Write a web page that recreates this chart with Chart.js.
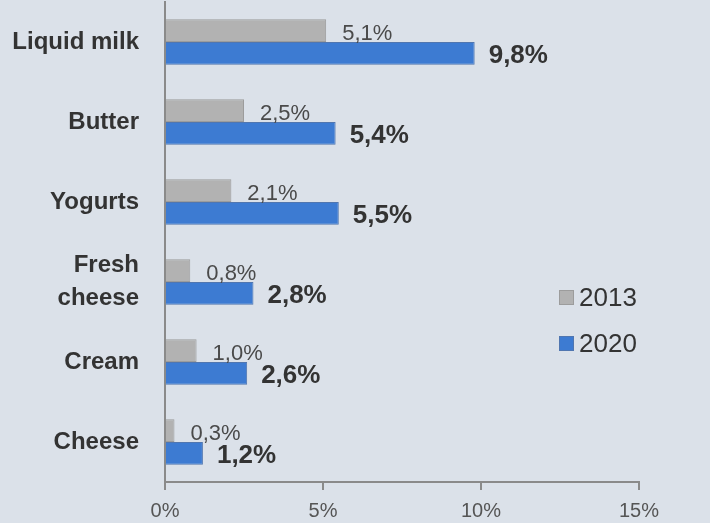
<!DOCTYPE html>
<html>
<head>
<meta charset="utf-8">
<script src="https://cdn.jsdelivr.net/npm/chart.js@4"></script>
<style>
    body { margin: 0; background: #dbe1e9; }
    #wrap { width: 710px; height: 523px; }
</style>
</head>
<body>
<div id="wrap"><canvas id="dairyChart"></canvas></div>
<script>
const categories = ['Liquid milk', 'Butter', 'Yogurts', ['Fresh', 'cheese'], 'Cream', 'Cheese'];
const seriesNames = ['2013', '2020'];
const values2013 = [5.1, 2.5, 2.1, 0.8, 1.0, 0.3];
const values2020 = [9.8, 5.4, 5.5, 2.8, 2.6, 1.2];
const xTicks = [0, 5, 10, 15];

const FONT = '"Liberation Sans", Arial, sans-serif';
const fmt = v => v.toFixed(1).replace('.', ',') + '%';

// value labels at the end of each bar
const barLabels = {
    id: 'barLabels',
    afterDatasetsDraw(chart) {
        const ctx = chart.ctx;
        ctx.save();
        ctx.textAlign = 'left';
        ctx.textBaseline = 'middle';
        chart.data.datasets.forEach((ds, i) => {
            chart.getDatasetMeta(i).data.forEach((bar, j) => {
                if (i === 0) {
                    ctx.font = '22px ' + FONT;
                    ctx.fillStyle = '#4a4a4a';
                    ctx.fillText(fmt(ds.data[j]), bar.x + 16, bar.y + 3);
                } else {
                    ctx.font = 'bold 26px ' + FONT;
                    ctx.fillStyle = '#333';
                    ctx.fillText(fmt(ds.data[j]), bar.x + 14, bar.y + 2);
                }
            });
        });
        ctx.restore();
    }
};

// legend drawn inside the plot, right side
const sideLegend = {
    id: 'sideLegend',
    afterDraw(chart) {
        const ctx = chart.ctx;
        ctx.save();
        ctx.font = '26px ' + FONT;
        ctx.textBaseline = 'middle';
        chart.data.datasets.forEach((ds, i) => {
            const y = 297 + i * 46;
            ctx.fillStyle = ds.backgroundColor;
            ctx.fillRect(559, y - 7, 15, 15);
            ctx.strokeStyle = ds.borderColor;
            ctx.lineWidth = 1;
            ctx.strokeRect(559.5, y - 6.5, 14, 14);
            ctx.fillStyle = '#333';
            ctx.fillText(ds.label, 579, y + 2);
        });
        ctx.restore();
    }
};

new Chart(document.getElementById('dairyChart'), {
    type: 'bar',
    data: {
        labels: categories,
        datasets: [{
            label: seriesNames[0],
            data: values2013,
            backgroundColor: '#b2b2b2',
            borderColor: '#9c9c9c',
            borderWidth: 1,
            categoryPercentage: 0.57,
            barPercentage: 1.0
        }, {
            label: seriesNames[1],
            data: values2020,
            backgroundColor: '#3d7bd2',
            borderColor: '#5076b0',
            borderWidth: 1,
            categoryPercentage: 0.57,
            barPercentage: 1.0
        }]
    },
    options: {
        indexAxis: 'y',
        responsive: true,
        maintainAspectRatio: false,
        animation: false,
        layout: { padding: { top: 2, right: 71, left: 0, bottom: 0 } },
        plugins: {
            legend: { display: false },
            tooltip: { enabled: false }
        },
        scales: {
            x: {
                min: 0,
                max: 15,
                afterBuildTicks: scale => { scale.ticks = xTicks.map(v => ({ value: v })); },
                afterFit: scale => { scale.height = 41; scale.paddingRight = 0; },
                grid: { drawOnChartArea: false, drawTicks: true, tickLength: 8, color: '#8a8a8a', lineWidth: 2 },
                border: { color: '#8a8a8a', width: 2 },
                ticks: {
                    padding: 9,
                    color: '#555',
                    font: { size: 20, family: FONT },
                    callback: v => v + '%'
                }
            },
            y: {
                afterFit: scale => { scale.width = 165; scale.paddingTop = 0; scale.paddingBottom = 0; },
                grid: { display: false, drawTicks: false },
                border: { color: '#8a8a8a', width: 2 },
                ticks: {
                    padding: 26,
                    color: '#333',
                    font: { size: 24, weight: 'bold', family: FONT, lineHeight: 1.375 }
                }
            }
        }
    },
    plugins: [barLabels, sideLegend]
});
</script>
</body>
</html>
